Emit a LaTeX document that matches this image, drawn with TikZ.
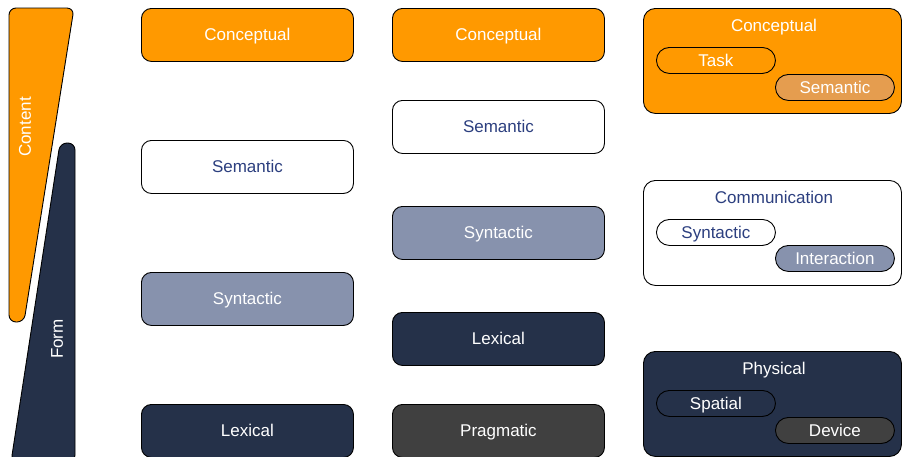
\documentclass[tikz,border=0pt]{standalone}
\usepackage{fontspec}
\setmainfont{Liberation Sans}
\definecolor{corange}{HTML}{FF9900}
\definecolor{cnavy}{HTML}{253149}
\definecolor{cslate}{HTML}{8792AD}
\definecolor{cgrey}{HTML}{404040}
\definecolor{cpeach}{HTML}{E59D4F}
\definecolor{cblue}{HTML}{2C3F7F}
\begin{document}
\begin{tikzpicture}[x=1pt,y=-1pt,font=\fontsize{17}{20}\selectfont,line width=0.9pt,
  box/.style={draw=black,rounded corners=10pt,minimum width=212pt,minimum height=53pt,inner sep=0pt,anchor=north west,text height=12.5pt,text depth=0.5pt},
  group/.style={draw=black,rounded corners=12pt,minimum width=258pt,minimum height=105pt,inner sep=0pt,anchor=north west},
  pill/.style={draw=black,rounded corners=13pt,minimum width=119pt,minimum height=26pt,inner sep=0pt,anchor=north west,text height=12.5pt,text depth=0.5pt},
  gtitle/.style={text height=12.5pt,text depth=0.5pt},
  fo/.style={fill=corange,text=white},
  fw/.style={fill=white,text=cblue},
  fs/.style={fill=cslate,text=white},
  fn/.style={fill=cnavy,text=white},
  fg/.style={fill=cgrey,text=white},
  fp/.style={fill=cpeach,text=white}]
\useasboundingbox (0,0) rectangle (902,456);
% wedges
\draw[fill=corange,rounded corners=7pt] (9,8) -- (74,8) -- (24,322) -- (9,322) -- cycle;
\draw[fill=cnavy,rounded corners=7pt] (60,143) -- (75,143) -- (75,462) -- (11,462) -- cycle;
\node[rotate=90,text=white] (content) at (25,127) {Content};
\node[rotate=90,text=white] (form) at (57,339) {Form};
% column 1
\node[box,fo] (c1) at (141,8) {Conceptual};
\node[box,fw] (s1) at (141,140) {Semantic};
\node[box,fs] (y1) at (141,272) {Syntactic};
\node[box,fn] (l1) at (141,404) {Lexical};
% column 2
\node[box,fo] (c2) at (392,8) {Conceptual};
\node[box,fw] (s2) at (392,100) {Semantic};
\node[box,fs] (y2) at (392,206) {Syntactic};
\node[box,fn] (l2) at (392,312) {Lexical};
\node[box,fg] (p2) at (392,404) {Pragmatic};
% column 3
\node[group,fill=corange] (g1) at (643,8) {};
\node[gtitle,text=white] (g1t) at (774,25) {Conceptual};
\node[pill,fo] (task) at (656,47) {Task};
\node[pill,fp] (sem3) at (775,74) {Semantic};
\node[group,fill=white] (g2) at (643,180) {};
\node[gtitle,text=cblue] (g2t) at (774,197) {Communication};
\node[pill,fw] (syn3) at (656,219) {Syntactic};
\node[pill,fs] (int3) at (775,245) {Interaction};
\node[group,fill=cnavy] (g3) at (643,351) {};
\node[gtitle,text=white] (g3t) at (774,368) {Physical};
\node[pill,fn] (spa3) at (656,390) {Spatial};
\node[pill,fg] (dev3) at (775,417) {Device};
\end{tikzpicture}
\end{document}
